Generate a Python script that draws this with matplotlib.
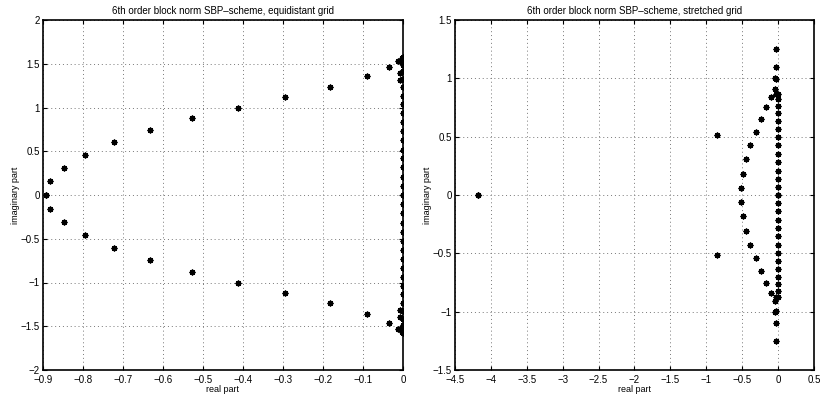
import numpy as np
import matplotlib
matplotlib.use('Agg')
import matplotlib.pyplot as plt
from matplotlib.ticker import FuncFormatter

# ---- equidistant grid: eigenvalues (upper half, mirrored below) ----
eq_arc_re = [-0.893, -0.881, -0.848, -0.794, -0.721, -0.631, -0.527, -0.413,
             -0.296, -0.183, -0.090, -0.035, -0.0125, -0.008, -0.008, -0.003]
eq_arc_im = [0.0, 0.156, 0.309, 0.462, 0.611, 0.744, 0.878, 1.0,
             1.118, 1.237, 1.355, 1.462, 1.53, 1.397, 1.317, 1.57]
eq_col_im = [0.0, 0.105, 0.21, 0.315, 0.42, 0.52, 0.625, 0.73, 0.835, 0.94,
             1.04, 1.135, 1.235, 1.33, 1.42, 1.49, 1.54, 1.56, 1.575]
eq_col_re = [-0.0005] * len(eq_col_im)

# ---- stretched grid ----
st_arc_re = [-4.175, -0.85, -0.511, -0.488, -0.442, -0.386, -0.312, -0.237,
             -0.168, -0.103, -0.047, -0.033, -0.038, -0.033, -0.037, -0.024]
st_arc_im = [0.0, 0.517, 0.06, 0.18, 0.309, 0.429, 0.543, 0.651,
             0.751, 0.837, 0.911, 0.991, 1.0, 1.094, 1.249, 0.87]
st_col_im = [0.0, 0.07, 0.14, 0.21, 0.28, 0.35, 0.425, 0.495, 0.565, 0.635,
             0.70, 0.76, 0.82, 0.87]
st_col_re = [-0.005] * len(st_col_im)


def mirror(re, im):
    re = np.asarray(re)
    im = np.asarray(im)
    return np.concatenate([re, re]), np.concatenate([im, -im])


def fmt(v, pos):
    v = round(v, 6)
    if abs(v) < 1e-9:
        v = 0.0
    return ('%g' % v).replace('-', '\u2212')


plt.rcParams['font.family'] = ['Liberation Sans', 'DejaVu Sans']
fig = plt.figure(figsize=(8.24, 4.0), dpi=100)
ax1 = fig.add_axes([0.052, 0.075, 0.437, 0.875])
ax2 = fig.add_axes([0.552, 0.075, 0.436, 0.875])

mk = dict(linestyle='none', marker=(8, 2, 0), color='black', markersize=4.2,
          markeredgewidth=1.0)

x, y = mirror(eq_arc_re, eq_arc_im)
ax1.plot(x, y, **mk)
x, y = mirror(eq_col_re, eq_col_im)
ax1.plot(x, y, **mk)
ax1.set_xlim(-0.9, 0)
ax1.set_ylim(-2, 2)
ax1.set_xticks(np.arange(-0.9, 0.001, 0.1))
ax1.set_yticks(np.arange(-2, 2.01, 0.5))
ax1.set_title('6th order block norm SBP\u2013scheme, equidistant grid',
              fontsize=7, pad=4)

x, y = mirror(st_arc_re, st_arc_im)
ax2.plot(x, y, **mk)
x, y = mirror(st_col_re, st_col_im)
ax2.plot(x, y, **mk)
ax2.set_xlim(-4.5, 0.5)
ax2.set_ylim(-1.5, 1.5)
ax2.set_xticks(np.arange(-4.5, 0.51, 0.5))
ax2.set_yticks(np.arange(-1.5, 1.51, 0.5))
ax2.set_title('6th order block norm SBP\u2013scheme, stretched grid',
              fontsize=7, pad=4)

for ax in (ax1, ax2):
    ax.xaxis.set_major_formatter(FuncFormatter(fmt))
    ax.yaxis.set_major_formatter(FuncFormatter(fmt))
    ax.grid(True, linestyle=(0, (1, 3)), color='#777777', linewidth=0.7)
    ax.tick_params(direction='in', top=True, right=True, labelsize=7,
                   length=3, width=0.8, pad=2)
    ax.tick_params(axis='x', pad=3.5)
    for sp in ax.spines.values():
        sp.set_linewidth(1.2)
    ax.set_xlabel('real part', fontsize=6.5, labelpad=0)
    ax.set_ylabel('imaginary part', fontsize=6.5, labelpad=1)

fig.savefig('out.png', dpi=100)
